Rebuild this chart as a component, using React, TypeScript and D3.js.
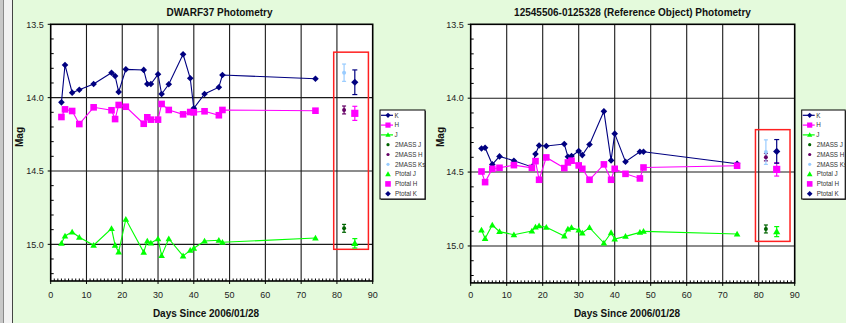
import React from 'react';
import * as d3 from 'd3';

const days = [3, 4, 6, 8, 12, 17, 18, 19, 21, 26, 27, 28, 30, 31, 33, 37, 39, 40, 43, 47, 48, 74];

const leftK = [14.032, 13.777, 13.966, 13.946, 13.907, 13.83, 13.852, 13.961, 13.807, 13.811, 13.907, 13.907, 13.841, 13.975, 13.909, 13.705, 13.868, 14.073, 13.975, 13.929, 13.846, 13.871];
const leftH = [14.132, 14.08, 14.091, 14.18, 14.066, 14.086, 14.146, 14.05, 14.062, 14.178, 14.134, 14.15, 14.15, 14.043, 14.084, 14.114, 14.098, 14.1, 14.093, 14.12, 14.084, 14.089];
const leftJ = [14.993, 14.943, 14.916, 14.952, 15.006, 14.893, 15.006, 15.052, 14.829, 15.054, 14.977, 14.991, 14.962, 15.077, 14.962, 15.079, 15.041, 15.027, 14.977, 14.972, 14.986, 14.957];

const rightK = [14.34, 14.335, 14.448, 14.394, 14.423, 14.465, 14.378, 14.32, 14.324, 14.31, 14.396, 14.392, 14.358, 14.385, 14.313, 14.089, 14.421, 14.24, 14.43, 14.362, 14.362, 14.444];
const rightH = [14.496, 14.568, 14.478, 14.471, 14.453, 14.471, 14.426, 14.552, 14.401, 14.473, 14.435, 14.423, 14.455, 14.478, 14.552, 14.448, 14.552, 14.478, 14.512, 14.543, 14.469, 14.457];
const rightJ = [14.892, 14.949, 14.858, 14.903, 14.924, 14.899, 14.872, 14.863, 14.874, 14.932, 14.885, 14.876, 14.892, 14.912, 14.876, 14.98, 14.91, 14.953, 14.935, 14.908, 14.901, 14.919];

// 2MASS (J, H, Ks) and Ptotal (J, H, K)
const twoMassDay = 82;
const ptotalDay = 85;
const leftTwoMass = [14.891, 14.084, 13.83];
const leftTwoMassErr = [0.027, 0.027, 0.059];
const leftPtotal = [14.993, 14.107, 13.895];
const leftPtotalErr = [0.032, 0.048, 0.084];
const rightTwoMass = [14.885, 14.399, 14.365];
const rightTwoMassErr = [0.027, 0.025, 0.083];
const rightPtotal = [14.903, 14.482, 14.36];
const rightPtotalErr = [0.034, 0.045, 0.08];

const leftBoxDays = [79.1, 88.8];
const leftBoxMags = [13.69, 15.034];
const rightBoxDays = [79.1, 88.7];
const rightBoxMags = [14.213, 14.969];

const xTicks = [0, 10, 20, 30, 40, 50, 60, 70, 80, 90];
const yTicks = [13.5, 14.0, 14.5, 15.0];
const yTickLabels = ['13.5', '14.0', '14.5', '15.0'];
const dayDomain = [0, 90];
const magDomain = [13.5, 15.25];
const legendLabels = ['K', 'H', 'J', '2MASS J', '2MASS H', '2MASS Ks', 'Ptotal J', 'Ptotal H', 'Ptotal K'];

const C_K = '#000080';
const C_H = '#FF00FF';
const C_J = '#00FF00';
const C_2J = '#006400';
const C_2H = '#660066';
const C_2K = '#99CCFF';
const FONT = '"Liberation Sans", Arial, sans-serif';

function marker(shape: string, x: number, y: number, color: string, s = 3.4, key?: any) {
  if (shape === 'diamond') {
    return <path key={key} d={`M${x},${y - s}L${x + s},${y}L${x},${y + s}L${x - s},${y}Z`} fill={color} />;
  }
  if (shape === 'square') {
    return <rect key={key} x={x - s} y={y - s} width={2 * s} height={2 * s} fill={color} />;
  }
  if (shape === 'triangle') {
    return <path key={key} d={`M${x},${y - s}L${x + s},${y + s * 0.75}L${x - s},${y + s * 0.75}Z`} fill={color} />;
  }
  return <circle key={key} cx={x} cy={y} r={s} fill={color} />;
}

type ChartProps = {
  x0: number; x1: number; yTop: number; yBot: number;
  title: string; titleX: number;
  K: number[]; H: number[]; J: number[];
  tm: number[]; tmErr: number[]; pt: number[]; ptErr: number[];
  boxDays: number[]; boxMags: number[];
  legendX: number; legendW: number; magX: number; magY: number; xLabelX: number;
};

function Chart(p: ChartProps) {
  const x = d3.scaleLinear().domain(dayDomain).range([p.x0, p.x1]);
  const y = d3.scaleLinear().domain(magDomain).range([p.yTop, p.yBot]);
  const line = d3.line<number>().x((_, i) => x(days[i])).y((d) => y(d));
  const series = [
    { v: p.K, c: C_K, shape: 'diamond' },
    { v: p.H, c: C_H, shape: 'square' },
    { v: p.J, c: C_J, shape: 'triangle' },
  ];
  const minorX = d3.range(1, 90, 1).filter((d) => d % 10 !== 0);
  const minorY = d3.range(13.6, 15.25, 0.1).filter((m) => Math.abs(m * 2 - Math.round(m * 2)) > 0.01);
  const tmColors = [C_2J, C_2H, C_2K];
  const ptColors = [C_J, C_H, C_K];
  const ptShapes = ['triangle', 'square', 'diamond'];
  const errBar = (day: number, m: number, e: number, c: string, w: number, key: string) => (
    <g key={key} stroke={c} strokeWidth={1.2}>
      <line x1={x(day)} x2={x(day)} y1={y(m - e)} y2={y(m + e)} />
      <line x1={x(day) - w} x2={x(day) + w} y1={y(m - e)} y2={y(m - e)} />
      <line x1={x(day) - w} x2={x(day) + w} y1={y(m + e)} y2={y(m + e)} />
    </g>
  );
  const lx = p.legendX;
  const ly0 = 115.3;
  const lstep = 9.8;
  return (
    <g>
      <rect x={p.x0} y={p.yTop} width={p.x1 - p.x0} height={p.yBot - p.yTop} fill="#fff" />
      {xTicks.slice(1, -1).map((t) => (
        <line key={'gx' + t} x1={x(t)} x2={x(t)} y1={p.yTop} y2={p.yBot} stroke="#1a1a1a" strokeWidth={1.1} />
      ))}
      {yTicks.slice(1).map((t) => (
        <line key={'gy' + t} x1={p.x0} x2={p.x1} y1={y(t)} y2={y(t)} stroke="#1a1a1a" strokeWidth={1.1} />
      ))}
      <rect x={x(p.boxDays[0])} y={y(p.boxMags[0])} width={x(p.boxDays[1]) - x(p.boxDays[0])}
        height={y(p.boxMags[1]) - y(p.boxMags[0])} fill="none" stroke="#FF2020" strokeWidth={1.5} />
      {series.map((s, si) => (
        <g key={'s' + si}>
          <path d={line(s.v) || ''} fill="none" stroke={s.c} strokeWidth={1.1} />
          {s.v.map((m, i) => marker(s.shape, x(days[i]), y(m), s.c, 3.3, i))}
        </g>
      ))}
      {p.tm.map((m, i) => errBar(twoMassDay, m, p.tmErr[i], tmColors[i], 2, 'te' + i))}
      {p.tm.map((m, i) => marker('circle', x(twoMassDay), y(m), tmColors[i], 2, 'tm' + i))}
      {p.pt.map((m, i) => errBar(ptotalDay, m, p.ptErr[i], ptColors[i], 2.5, 'pe' + i))}
      {p.pt.map((m, i) => marker(ptShapes[i], x(ptotalDay), y(m), ptColors[i], 3.6, 'pm' + i))}
      <rect x={p.x0} y={p.yTop} width={p.x1 - p.x0} height={p.yBot - p.yTop} fill="none" stroke="#000" strokeWidth={1.6} />
      {minorX.map((t) => (
        <line key={'mx' + t} x1={x(t)} x2={x(t)} y1={p.yBot} y2={p.yBot - 2.5} stroke="#000" strokeWidth={1} />
      ))}
      {xTicks.map((t) => (
        <line key={'tx' + t} x1={x(t)} x2={x(t)} y1={p.yBot} y2={p.yBot + 3} stroke="#000" strokeWidth={1} />
      ))}
      {minorY.map((m, i) => (
        <line key={'my' + i} x1={p.x0} x2={p.x0 + 3} y1={y(m)} y2={y(m)} stroke="#000" strokeWidth={1} />
      ))}
      {yTicks.map((t) => (
        <line key={'ty' + t} x1={p.x0 - 3} x2={p.x0} y1={y(t)} y2={y(t)} stroke="#000" strokeWidth={1} />
      ))}
      {xTicks.map((t) => (
        <text key={'lx' + t} x={x(t)} y={298} textAnchor="middle" fontSize={9} fill="#222" fontFamily={FONT}>{t}</text>
      ))}
      {yTicks.map((t, i) => (
        <text key={'ly' + t} x={p.x0 - 7} y={y(t) + 3.2} textAnchor="end" fontSize={9} fill="#222" fontFamily={FONT}>{yTickLabels[i]}</text>
      ))}
      <text x={p.titleX} y={15.5} textAnchor="middle" fontSize={10} fontWeight="bold" fill="#111" fontFamily={FONT}>{p.title}</text>
      <text x={p.xLabelX} y={316.5} textAnchor="middle" fontSize={10} fontWeight="bold" fill="#111" fontFamily={FONT}>Days Since 2006/01/28</text>
      <text transform={`translate(${p.magX},${p.magY}) rotate(-90)`} textAnchor="middle" fontSize={10} fontWeight="bold" fill="#111" fontFamily={FONT}>Mag</text>
      <g>
        <rect x={lx + 1} y={111} width={p.legendW} height={89} fill="#555" />
        <rect x={lx} y={110} width={p.legendW} height={89} fill="#fff" stroke="#000" strokeWidth={1} />
        {legendLabels.map((lab, i) => {
          const yy = ly0 + i * lstep;
          let sym: any;
          if (i < 3) {
            const s = series[i];
            sym = (
              <g>
                <line x1={lx + 1} x2={lx + 13} y1={yy} y2={yy} stroke={s.c} strokeWidth={1.2} />
                {marker(s.shape, lx + 8, yy, s.c, 2.6)}
              </g>
            );
          } else if (i < 6) {
            sym = marker('circle', lx + 8, yy, tmColors[i - 3], 1.6);
          } else {
            sym = marker(ptShapes[i - 6], lx + 8, yy, ptColors[i - 6], 2.8);
          }
          return (
            <g key={'lg' + i}>
              {sym}
              <text x={lx + (i < 3 ? 14.5 : 15)} y={yy + 2.3} fontSize={6.3} fill="#333" fontFamily={FONT}>{lab}</text>
            </g>
          );
        })}
      </g>
    </g>
  );
}

export default function App() {
  return (
    <svg width={846} height={323} style={{ position: 'absolute', left: 0, top: 0, display: 'block' }}>
      <rect x={0} y={0} width={846} height={323} fill="#E4FADC" />
      <rect x={0} y={0} width={13} height={323} fill="#F2F2F2" />
      <rect x={0} y={0} width={3} height={323} fill="#C8C8C8" />
      <line x1={3.5} x2={3.5} y1={0} y2={323} stroke="#8A8A8A" strokeWidth={1} />
      <line x1={12.5} x2={12.5} y1={0} y2={323} stroke="#444" strokeWidth={1} />
      <Chart x0={50.7} x1={372.7} yTop={24.3} yBot={281} title="DWARF37 Photometry" titleX={219.5}
        K={leftK} H={leftH} J={leftJ} tm={leftTwoMass} tmErr={leftTwoMassErr} pt={leftPtotal} ptErr={leftPtotalErr}
        boxDays={leftBoxDays} boxMags={leftBoxMags} legendX={380} legendW={45} magX={23} magY={137} xLabelX={206} />
      <Chart x0={470.7} x1={794.7} yTop={24.3} yBot={282.9} title="12545506-0125328 (Reference Object) Photometry" titleX={632.5}
        K={rightK} H={rightH} J={rightJ} tm={rightTwoMass} tmErr={rightTwoMassErr} pt={rightPtotal} ptErr={rightPtotalErr}
        boxDays={rightBoxDays} boxMags={rightBoxMags} legendX={801.7} legendW={43.5} magX={443.5} magY={137} xLabelX={627} />
    </svg>
  );
}
